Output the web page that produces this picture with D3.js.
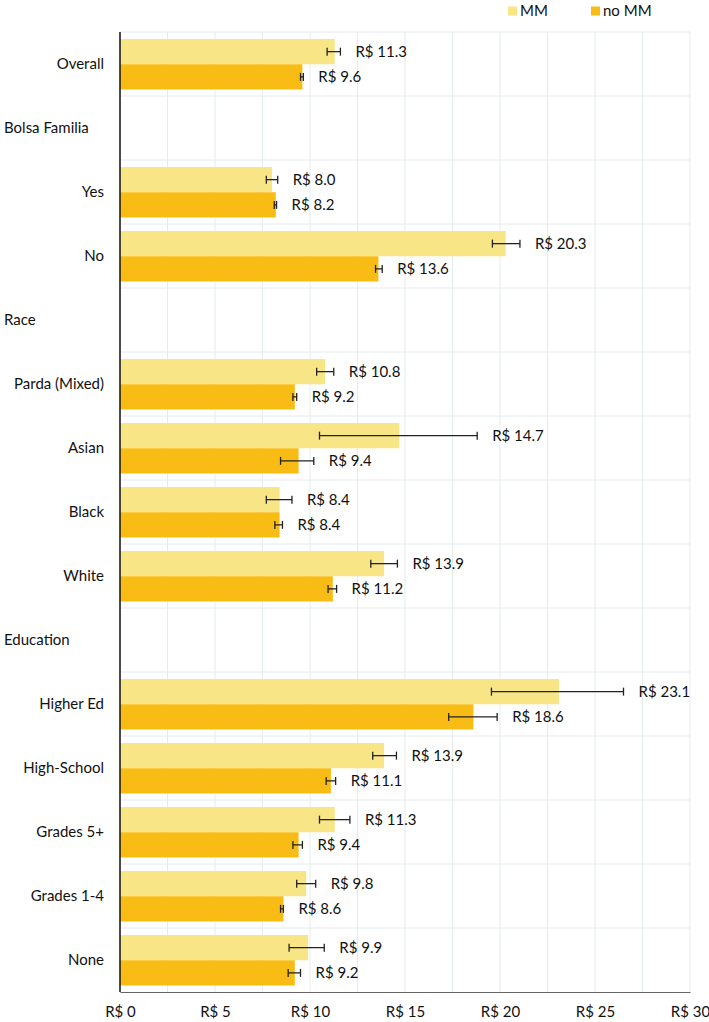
<!DOCTYPE html>
<html>
<head>
<meta charset="utf-8">
<script src="https://cdn.jsdelivr.net/npm/d3@7"></script>
<style>
  body { margin: 0; background: #fff; }
  text { font-family: Lato, "Open Sans", sans-serif; fill: #111; }
</style>
</head>
<body>
<div id="container"></div>
<script>
const WIDTH = 709,
  HEIGHT = 1022,
  MARGIN = { top: 32, right: 19, bottom: 30, left: 120 };

// Data
const categories = ["Overall", "Bolsa Familia", "Yes", "No", "Race", "Parda (Mixed)", "Asian", "Black", "White",
  "Education", "Higher Ed", "High-School", "Grades 5+", "Grades 1-4", "None"];
const headers = ["Bolsa Familia", "Race", "Education"];
const series = ["MM", "no MM"];

const mmValues   = [11.3, null, 8.0, 20.3, null, 10.8, 14.7, 8.4, 13.9, null, 23.1, 13.9, 11.3, 9.8, 9.9];
const mmLow      = [10.9, null, 7.7, 19.6, null, 10.35, 10.5, 7.7, 13.2, null, 19.55, 13.3, 10.5, 9.3, 8.9];
const mmHigh     = [11.6, null, 8.3, 21.05, null, 11.25, 18.8, 9.05, 14.6, null, 26.5, 14.55, 12.1, 10.3, 10.75];
const noMmValues = [9.6, null, 8.2, 13.6, null, 9.2, 9.4, 8.4, 11.2, null, 18.6, 11.1, 9.4, 8.6, 9.2];
const noMmLow    = [9.5, null, 8.12, 13.45, null, 9.1, 8.45, 8.15, 10.95, null, 17.3, 10.85, 9.1, 8.45, 8.85];
const noMmHigh   = [9.65, null, 8.24, 13.8, null, 9.3, 10.2, 8.55, 11.4, null, 19.85, 11.35, 9.6, 8.6, 9.5];

const xTicks = [0, 5, 10, 15, 20, 25, 30];
const xGrid = d3.range(0, 30.01, 2.5);

const colors = { "MM": "#F7E586", "no MM": "#F9BC14" };

// flat table
const rows = [];
categories.forEach((c, i) => {
  if (mmValues[i] != null) rows.push({ cat: c, s: "MM", v: mmValues[i], lo: mmLow[i], hi: mmHigh[i] });
  if (noMmValues[i] != null) rows.push({ cat: c, s: "no MM", v: noMmValues[i], lo: noMmLow[i], hi: noMmHigh[i] });
});

const svg = d3.select("#container")
  .append("svg")
  .attr("width", WIDTH)
  .attr("height", HEIGHT);

// Scales
const xScale = d3.scaleLinear()
  .domain([0, 30])
  .range([MARGIN.left, WIDTH - MARGIN.right]);

const yScale = d3.scaleBand()
  .domain(categories)
  .range([MARGIN.top, HEIGHT - MARGIN.bottom])
  .padding(0);

const ySub = d3.scaleBand()
  .domain(series)
  .range([7, yScale.bandwidth() - 6.5])
  .padding(0);

// gridlines
svg.append("g")
  .selectAll("line")
  .data(xGrid)
  .join("line")
  .attr("x1", d => xScale(d))
  .attr("x2", d => xScale(d))
  .attr("y1", MARGIN.top)
  .attr("y2", HEIGHT - MARGIN.bottom)
  .attr("stroke", "#e4ebed")
  .attr("stroke-width", 1);

svg.append("g")
  .selectAll("line")
  .data(categories)
  .join("line")
  .attr("x1", MARGIN.left)
  .attr("x2", WIDTH - MARGIN.right)
  .attr("y1", d => yScale(d))
  .attr("y2", d => yScale(d))
  .attr("stroke", "#e4ebed")
  .attr("stroke-width", 1);

// bars
svg.append("g")
  .selectAll("rect")
  .data(rows)
  .join("rect")
  .attr("x", xScale(0))
  .attr("y", d => yScale(d.cat) + ySub(d.s))
  .attr("width", d => xScale(d.v) - xScale(0))
  .attr("height", ySub.bandwidth())
  .attr("fill", d => colors[d.s]);

// error bars
const err = svg.append("g")
  .selectAll("g")
  .data(rows)
  .join("g")
  .attr("transform", d => `translate(0, ${yScale(d.cat) + ySub(d.s) + ySub.bandwidth() / 2})`)
  .attr("stroke", "#222")
  .attr("stroke-width", 1.3);

err.append("line")
  .attr("x1", d => xScale(d.lo))
  .attr("x2", d => xScale(d.hi));
err.append("line")
  .attr("x1", d => xScale(d.lo))
  .attr("x2", d => xScale(d.lo))
  .attr("y1", -4).attr("y2", 4);
err.append("line")
  .attr("x1", d => xScale(d.hi))
  .attr("x2", d => xScale(d.hi))
  .attr("y1", -4).attr("y2", 4);

// value labels
svg.append("g")
  .selectAll("text")
  .data(rows)
  .join("text")
  .attr("x", d => xScale(Math.max(d.v, d.hi)) + 15)
  .attr("y", d => yScale(d.cat) + ySub(d.s) + ySub.bandwidth() / 2)
  .attr("dy", "0.35em")
  .style("font-size", "15px")
  .text(d => `R$ ${d.v.toFixed(1)}`);

// category labels
svg.append("g")
  .selectAll("text")
  .data(categories)
  .join("text")
  .attr("x", d => headers.includes(d) ? 4 : 104)
  .attr("y", d => yScale(d) + yScale.bandwidth() / 2)
  .attr("dy", "0.35em")
  .attr("text-anchor", d => headers.includes(d) ? "start" : "end")
  .style("font-size", "15px")
  .text(d => d);

// axes
svg.append("g")
  .attr("class", "x-axis")
  .attr("transform", `translate(0, ${HEIGHT - MARGIN.bottom})`)
  .call(d3.axisBottom(xScale).tickValues(xTicks).tickSize(0).tickPadding(14).tickFormat(d => `R$ ${d}`))
  .call(g => g.select(".domain").attr("stroke", "#666").attr("stroke-width", 1.2))
  .call(g => g.selectAll("text").style("font-size", "15px").style("font-family", "Lato, sans-serif").attr("fill", "#111"));

svg.append("line")
  .attr("x1", MARGIN.left)
  .attr("x2", MARGIN.left)
  .attr("y1", MARGIN.top)
  .attr("y2", HEIGHT - MARGIN.bottom)
  .attr("stroke", "#111")
  .attr("stroke-width", 1.5);

// legend
const legend = svg.append("g")
  .selectAll("g")
  .data(series)
  .join("g")
  .attr("transform", (d, i) => `translate(${508 + i * 83}, 11)`);

legend.append("rect")
  .attr("x", 0)
  .attr("y", -4.5)
  .attr("width", 9)
  .attr("height", 9)
  .attr("fill", d => colors[d]);

legend.append("text")
  .attr("x", 12)
  .attr("y", 0)
  .attr("dy", "0.35em")
  .style("font-size", "15px")
  .text(d => d);
</script>
</body>
</html>
